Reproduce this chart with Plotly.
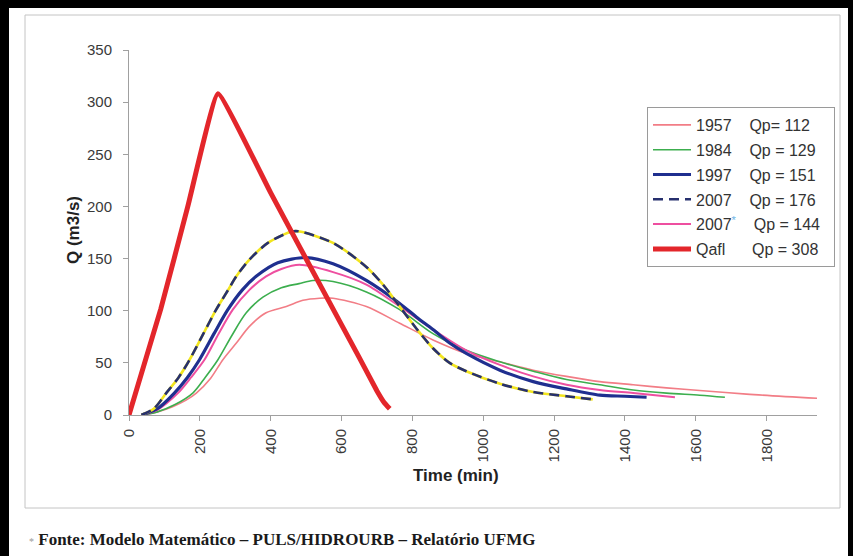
import plotly.graph_objects as go

# ---------------- data ----------------
t_1957 = [35, 80, 123, 160, 190, 230, 265, 303, 340, 387, 444, 491, 538, 576, 670, 764, 858, 952, 1047, 1141, 1235, 1329, 1423, 1517, 1611, 1743, 1942]
q_1957 = [0, 3, 8, 14, 21, 35, 53, 69, 85, 98, 104, 110, 112, 112, 104, 88, 72, 59, 51, 43, 37, 32, 29, 26, 23.5, 20, 16]

t_1984 = [35, 80, 130, 180, 215, 251, 290, 331, 378, 430, 480, 519, 576, 670, 764, 858, 952, 1047, 1141, 1235, 1329, 1423, 1517, 1611, 1682]
q_1984 = [0, 3, 10, 21, 36, 53, 76, 98, 113, 122, 126, 129, 128, 118, 101, 78, 62, 51, 42, 34, 29, 24, 21, 19, 17]

t_1997 = [35, 80, 128, 165, 199, 240, 279, 320, 359, 420, 500, 576, 670, 764, 811, 858, 905, 952, 1047, 1141, 1235, 1329, 1400, 1461]
q_1997 = [0, 6, 21, 36, 53, 78, 101, 120, 133, 146, 151, 145, 129, 107, 94, 82, 69, 59, 43, 32, 25, 19, 18, 17]

t_2007 = [35, 70, 105, 140, 171, 210, 246, 280, 303, 340, 392, 460, 482, 576, 670, 717, 764, 811, 858, 905, 952, 1047, 1141, 1235, 1309]
q_2007 = [0, 6, 21, 36, 53, 78, 101, 120, 133, 149, 165, 176, 176, 165, 142, 125, 104, 83, 64, 50, 42, 30, 22, 18, 15]

t_2007b = [35, 80, 138, 175, 213, 253, 293, 340, 387, 430, 481, 576, 670, 764, 858, 952, 1047, 1141, 1235, 1329, 1423, 1541]
q_2007b = [0, 5, 21, 36, 53, 78, 101, 120, 133, 140, 144, 137, 125, 104, 82, 62, 48, 37, 29, 24, 21, 17]

t_qafl = [0, 90, 166, 251, 400, 550, 650, 700, 720, 736]
q_qafl = [0, 102, 200, 308, 213, 118, 55, 23, 12, 6]

names = [
    "1957\u00a0\u00a0\u00a0\u00a0Qp= 112",
    "1984\u00a0\u00a0\u00a0\u00a0Qp = 129",
    "1997\u00a0\u00a0\u00a0\u00a0Qp = 151",
    "2007\u00a0\u00a0\u00a0\u00a0Qp = 176",
    "2007<sup><span style='color:#6fb6e6'>*</span></sup>\u00a0\u00a0\u00a0\u00a0Qp = 144\u00a0\u00a0",
    "Qafl\u00a0\u00a0\u00a0\u00a0\u00a0\u00a0Qp = 308",
]

x_ticks = [0, 200, 400, 600, 800, 1000, 1200, 1400, 1600, 1800]
y_ticks = [0, 50, 100, 150, 200, 250, 300, 350]

# ---------------- layout helpers ----------------
W, H = 853, 556
PL, PR, PT, PB = 129, 817, 50, 415  # plot area in pixels


def px(x):
    return (x - PL) / (PR - PL)


def py(y):
    return (PB - y) / (PB - PT)


fig = go.Figure()

fig.add_trace(go.Scatter(x=t_1957, y=q_1957, mode="lines", name=names[0],
                         line=dict(color="#f27d86", width=1.6, shape="spline", smoothing=0.8),
                         legendgroup="a", legendrank=1))
fig.add_trace(go.Scatter(x=t_1984, y=q_1984, mode="lines", name=names[1],
                         line=dict(color="#3cae4e", width=1.6, shape="spline", smoothing=0.9),
                         legendgroup="b", legendrank=2))
fig.add_trace(go.Scatter(x=t_2007b, y=q_2007b, mode="lines", name=names[4],
                         line=dict(color="#ee4fa0", width=2, shape="spline", smoothing=0.8),
                         legendgroup="e", legendrank=5))
fig.add_trace(go.Scatter(x=t_1997, y=q_1997, mode="lines", name=names[2],
                         line=dict(color="#1f2f8f", width=3.2, shape="spline", smoothing=0.8),
                         legendgroup="c", legendrank=3))
fig.add_trace(go.Scatter(x=t_2007, y=q_2007, mode="lines", showlegend=False,
                         line=dict(color="#f2e51e", width=2.6, shape="spline", smoothing=0.8),
                         legendgroup="d", hoverinfo="skip"))
fig.add_trace(go.Scatter(x=t_2007, y=q_2007, mode="lines", name=names[3],
                         line=dict(color="#27306e", width=2.6, dash="10px,6px", shape="spline", smoothing=0.8),
                         legendgroup="d", legendrank=4))
fig.add_trace(go.Scatter(x=t_qafl, y=q_qafl, mode="lines", name=names[5],
                         line=dict(color="#e3262b", width=5, shape="spline", smoothing=0.3),
                         legendgroup="f", legendrank=6))

tick_font = dict(family="Liberation Sans, Arial, sans-serif", size=15, color="#3a3a3a")
title_font = dict(family="Liberation Sans, Arial, sans-serif", size=17, color="#222")

fig.update_xaxes(range=[0, 1942], tickvals=x_ticks, ticktext=[str(v) for v in x_ticks],
                 tickangle=-90, tickfont=tick_font, showgrid=False, zeroline=False,
                 showline=True, linecolor="#a0a0a0", linewidth=1,
                 ticks="outside", ticklen=5, tickcolor="#a0a0a0", ticklabelstandoff=2)
fig.update_yaxes(range=[0, 350], tickvals=y_ticks, ticktext=[str(v) for v in y_ticks],
                 tickfont=tick_font, showgrid=False, zeroline=False,
                 showline=True, linecolor="#a0a0a0", linewidth=1,
                 ticks="outside", ticklen=5, tickcolor="#a0a0a0", ticklabelstandoff=8)

shapes = [
    # outer black frame (top, left, right)
    dict(type="rect", xref="paper", yref="paper", x0=px(0), x1=px(W), y0=py(0), y1=py(8),
         fillcolor="black", line=dict(width=0), layer="above"),
    dict(type="rect", xref="paper", yref="paper", x0=px(0), x1=px(9), y0=py(0), y1=py(H),
         fillcolor="black", line=dict(width=0), layer="above"),
    dict(type="rect", xref="paper", yref="paper", x0=px(848), x1=px(W), y0=py(0), y1=py(H),
         fillcolor="black", line=dict(width=0), layer="above"),
    # inner grey chart-area border
    dict(type="rect", xref="paper", yref="paper", x0=px(25), x1=px(840), y0=py(15), y1=py(508),
         fillcolor="rgba(0,0,0,0)", line=dict(color="#c4c4c4", width=1), layer="below"),
]

annotations = [
    dict(xref="paper", yref="paper", x=px(456), y=py(475), text="<b>Time (min)</b>",
         showarrow=False, xanchor="center", yanchor="middle", font=title_font),
    dict(xref="paper", yref="paper", x=px(73), y=py(230), text="<b>Q (m3/s)</b>",
         showarrow=False, xanchor="center", yanchor="middle", textangle=-90, font=title_font),
    dict(xref="paper", yref="paper", x=px(27), y=py(539),
         text="<span style='color:#9a9a9a;font-size:10px'>*</span> <b>Fonte: Modelo Matemático – PULS/HIDROURB – Relatório UFMG</b>",
         showarrow=False, xanchor="left", yanchor="middle",
         font=dict(family="Liberation Serif, Times New Roman, serif", size=17, color="#1a1a1a")),
]

fig.update_layout(
    width=W, height=H,
    margin=dict(l=PL, r=W - PR, t=PT, b=H - PB),
    paper_bgcolor="white", plot_bgcolor="white",
    showlegend=True,
    legend=dict(x=px(647), y=py(107), xanchor="left", yanchor="top",
                bgcolor="white", bordercolor="#9a9a9a", borderwidth=1,
                font=dict(family="Liberation Sans, Arial, sans-serif", size=16, color="#333"),
                itemwidth=38, tracegroupgap=1, traceorder="grouped"),
    shapes=shapes,
    annotations=annotations,
)

fig.write_html("out.html", config={"displayModeBar": False},
               post_script="document.body.style.margin='0';")
